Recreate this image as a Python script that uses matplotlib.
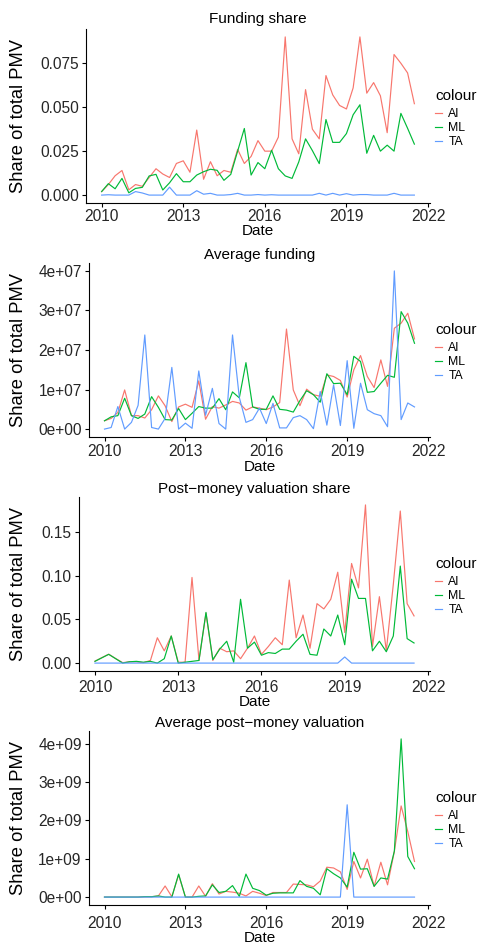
import matplotlib
matplotlib.use('Agg')
import matplotlib.pyplot as plt
from matplotlib.lines import Line2D
import pandas as pd

plt.rcParams['font.family'] = ['Liberation Sans', 'DejaVu Sans']

# ---------------- data ----------------
dates = pd.date_range('2010-01-01', periods=47, freq='QS')
series_names = ['AI', 'ML', 'TA']

funding_share_AI = [0.002, 0.006, 0.011, 0.014, 0.003, 0.006, 0.005, 0.010, 0.015, 0.012,
                    0.010, 0.018, 0.0195, 0.013, 0.037, 0.009, 0.019, 0.011, 0.014, 0.013,
                    0.026, 0.018, 0.022, 0.031, 0.025, 0.025, 0.033, 0.090, 0.032, 0.0235,
                    0.060, 0.0375, 0.032, 0.068, 0.057, 0.051, 0.049, 0.061, 0.090, 0.058,
                    0.064, 0.0565, 0.0355, 0.080, 0.075, 0.0695, 0.052]
funding_share_ML = [0.002, 0.0065, 0.0036, 0.0095, 0.0013, 0.0038, 0.0044, 0.0109, 0.0118, 0.0029,
                    0.007, 0.0122, 0.0076, 0.0076, 0.0114, 0.0133, 0.0147, 0.0141, 0.0084, 0.0118,
                    0.025, 0.0379, 0.0114, 0.0185, 0.015, 0.0255, 0.015, 0.0109, 0.0095, 0.0189,
                    0.032, 0.0253, 0.0179, 0.043, 0.030, 0.030, 0.035, 0.0457, 0.0514, 0.0238,
                    0.034, 0.025, 0.0284, 0.025, 0.0465, 0.038, 0.029]
funding_share_TA = [0.0, 0.0002, 0.0, 0.0, 0.0, 0.002, 0.0012, 0.0, 0.0, 0.0,
                    0.0045, 0.0, 0.0, 0.0, 0.0025, 0.0005, 0.001, 0.0, 0.0, 0.0003,
                    0.001, 0.0, 0.0, 0.0003, 0.0, 0.0002, 0.0, 0.0, 0.0, 0.0,
                    0.0, 0.0, 0.001, 0.0, 0.001, 0.0, 0.0008, 0.0, 0.0003, 0.0003,
                    0.0, 0.0, 0.0, 0.001, 0.0, 0.0, 0.0]

avg_funding_AI = [2.1e6, 2.7e6, 4.2e6, 9.9e6, 3.4e6, 3.4e6, 2.8e6, 4.9e6, 8.4e6, 5.9e6,
                  1.9e6, 5.6e6, 6.3e6, 5.5e6, 12.2e6, 2.5e6, 5.7e6, 5.3e6, 6.1e6, 7.0e6,
                  6.6e6, 4.8e6, 5.6e6, 5.3e6, 4.9e6, 5.6e6, 6.7e6, 25.3e6, 9.9e6, 5.9e6,
                  10.1e6, 8.7e6, 8.3e6, 13.7e6, 13.3e6, 12.3e6, 8.1e6, 15.0e6, 18.6e6, 13.3e6,
                  10.5e6, 17.5e6, 10.8e6, 25.5e6, 26.8e6, 29.3e6, 22.8e6]
avg_funding_ML = [2.1e6, 3.1e6, 3.4e6, 7.8e6, 3.4e6, 2.7e6, 3.8e6, 8.2e6, 5.5e6, 2.4e6,
                  2.3e6, 5.2e6, 2.4e6, 4.0e6, 5.7e6, 5.3e6, 5.3e6, 7.7e6, 4.9e6, 9.4e6,
                  7.9e6, 16.8e6, 5.6e6, 5.0e6, 5.0e6, 8.4e6, 5.0e6, 4.8e6, 4.3e6, 7.2e6,
                  9.7e6, 8.7e6, 6.8e6, 14.0e6, 11.5e6, 11.6e6, 8.7e6, 18.4e6, 17.1e6, 9.3e6,
                  9.5e6, 11.6e6, 13.6e6, 13.1e6, 29.7e6, 26.8e6, 21.7e6]
avg_funding_TA = [0.0, 0.4e6, 5.7e6, 0.0, 1.7e6, 6.0e6, 23.8e6, 0.4e6, 0.0, 2.7e6,
                  15.6e6, 0.0, 1.5e6, 0.2e6, 14.7e6, 3.5e6, 10.3e6, 1.4e6, 0.0, 23.8e6,
                  8.0e6, 1.7e6, 2.4e6, 5.3e6, 1.4e6, 6.5e6, 0.3e6, 0.3e6, 2.9e6, 3.4e6,
                  2.4e6, 0.1e6, 9.5e6, 1.0e6, 11.2e6, 0.9e6, 17.3e6, 0.2e6, 11.6e6, 4.9e6,
                  3.9e6, 3.4e6, 0.6e6, 40.0e6, 2.4e6, 6.6e6, 5.6e6]

pmv_share_AI = [0.0022, 0.0062, 0.0102, 0.0052, 0.0005, 0.0015, 0.0015, 0.0005, 0.003, 0.029,
                0.014, 0.031, 0.001, 0.001, 0.098, 0.003, 0.057, 0.003, 0.017, 0.013,
                0.014, 0.005, 0.017, 0.031, 0.010, 0.019, 0.029, 0.021, 0.095, 0.029,
                0.055, 0.017, 0.068, 0.062, 0.073, 0.104, 0.035, 0.114, 0.086, 0.181,
                0.019, 0.076, 0.014, 0.09, 0.174, 0.068, 0.054]
pmv_share_ML = [0.002, 0.006, 0.010, 0.005, 0.0, 0.0015, 0.002, 0.001, 0.002, 0.0,
                0.005, 0.031, 0.0, 0.001, 0.002, 0.003, 0.058, 0.004, 0.016, 0.025,
                0.001, 0.073, 0.017, 0.024, 0.009, 0.012, 0.011, 0.016, 0.016, 0.025,
                0.033, 0.010, 0.009, 0.039, 0.031, 0.055, 0.021, 0.096, 0.074, 0.074,
                0.014, 0.025, 0.013, 0.031, 0.111, 0.028, 0.023]
pmv_share_TA = [0.0] * 36 + [0.007] + [0.0] * 10

avg_pmv_AI = [0.0, 0.0, 0.0, 0.0, 0.0, 0.0, 0.01e9, 0.01e9, 0.03e9, 0.29e9,
              0.01e9, 0.58e9, 0.0, 0.0, 0.29e9, 0.02e9, 0.35e9, 0.08e9, 0.15e9, 0.13e9,
              0.10e9, 0.03e9, 0.15e9, 0.10e9, 0.04e9, 0.12e9, 0.12e9, 0.12e9, 0.34e9, 0.33e9,
              0.32e9, 0.27e9, 0.42e9, 0.78e9, 0.76e9, 0.66e9, 0.20e9, 0.93e9, 0.50e9, 0.99e9,
              0.28e9, 0.91e9, 0.32e9, 1.19e9, 2.38e9, 1.71e9, 0.93e9]
avg_pmv_ML = [0.0, 0.0, 0.0, 0.0, 0.0, 0.0, 0.01e9, 0.01e9, 0.03e9, 0.0,
              0.0, 0.60e9, 0.0, 0.0, 0.02e9, 0.03e9, 0.32e9, 0.12e9, 0.15e9, 0.30e9,
              0.02e9, 0.60e9, 0.23e9, 0.17e9, 0.05e9, 0.10e9, 0.11e9, 0.11e9, 0.11e9, 0.43e9,
              0.28e9, 0.23e9, 0.06e9, 0.74e9, 0.61e9, 0.50e9, 0.26e9, 1.17e9, 0.73e9, 0.74e9,
              0.28e9, 0.50e9, 0.47e9, 1.20e9, 4.13e9, 1.06e9, 0.74e9]
avg_pmv_TA = [0.0] * 36 + [2.41e9] + [0.0] * 10

titles = ['Funding share', 'Average funding', 'Post\u2212money valuation share',
          'Average post\u2212money valuation']
ytick_values = [[0.0, 0.025, 0.05, 0.075], [0, 1e7, 2e7, 3e7, 4e7],
                [0.0, 0.05, 0.10, 0.15], [0, 1e9, 2e9, 3e9, 4e9]]
ytick_labels = [['0.000', '0.025', '0.050', '0.075'],
                ['0e+00', '1e+07', '2e+07', '3e+07', '4e+07'],
                ['0.00', '0.05', '0.10', '0.15'],
                ['0e+00', '1e+09', '2e+09', '3e+09', '4e+09']]
xtick_years = [2010, 2013, 2016, 2019, 2022]
xtick_labels = ['2010', '2013', '2016', '2019', '2022']

panel_data = [
    {'AI': funding_share_AI, 'ML': funding_share_ML, 'TA': funding_share_TA},
    {'AI': avg_funding_AI, 'ML': avg_funding_ML, 'TA': avg_funding_TA},
    {'AI': pmv_share_AI, 'ML': pmv_share_ML, 'TA': pmv_share_TA},
    {'AI': avg_pmv_AI, 'ML': avg_pmv_ML, 'TA': avg_pmv_TA},
]

# ---------------- style / layout ----------------
colors = {'AI': '#F8766D', 'ML': '#00BA38', 'TA': '#619CFF'}
W, H = 479, 946
layout = [(86, 29, 203), (89, 263, 437), (79, 497, 671), (89, 731, 905)]  # left, top, bottom (px)
title_y = [19, 255, 489, 723]
tick_offset = [14.5, 15.7, 17.0, 19.0]
date_y = [231, 467, 702, 938]
right = 430
text_col = '#262626'
tick_len = 2.8

fig = plt.figure(figsize=(W / 100, H / 100), dpi=100)
for k in range(4):
    l, t, b = layout[k]
    ax = fig.add_axes([l / W, 1 - b / H, (right - l) / W, (b - t) / H])
    data = panel_data[k]
    for name in series_names:
        ax.plot(dates, data[name], color=colors[name], lw=0.85, label=name)
    ax.set_yticks(ytick_values[k])
    ax.set_yticklabels(ytick_labels[k])
    ax.set_xticks([pd.Timestamp(f'{y}-01-01') for y in xtick_years])
    ax.set_xticklabels(xtick_labels)
    ax.margins(x=0.05, y=0.05)
    for s in ['top', 'right']:
        ax.spines[s].set_visible(False)
    for s in ['left', 'bottom']:
        ax.spines[s].set_linewidth(0.8)
        ax.spines[s].set_color('black')
    ax.tick_params(direction='out', length=tick_len, width=0.8, color='black',
                   labelsize=11.2, labelcolor=text_col)
    ax.tick_params(axis='y', pad=2.5)
    ax.tick_params(axis='x', pad=max(0.5, (tick_offset[k] - 8.5) * 0.72 - tick_len))
    xc = (l + right) / 2 / W
    fig.text(xc, 1 - title_y[k] / H, titles[k], ha='center', va='center',
             fontsize=11, color='black')
    fig.text(xc, 1 - date_y[k] / H, 'Date', ha='center', va='center',
             fontsize=11, color='black')
    fig.text(19 / W, 1 - (t + b) / 2 / H, 'Share of total PMV', rotation=90,
             ha='center', va='center', fontsize=13.2, color='black')
    c = (t + b) / 2
    fig.text(435 / W, 1 - (c - 20) / H, 'colour', ha='left', va='center',
             fontsize=11, color='black')
    handles = [Line2D([], [], color=colors[n], lw=0.85) for n in series_names]
    leg = ax.legend(handles, series_names, loc='center left',
                    bbox_to_anchor=(435 / W, 1 - (c + 12) / H),
                    bbox_transform=fig.transFigure, frameon=False,
                    fontsize=8.8, handlelength=0.6, handletextpad=0.5,
                    labelspacing=0.16, borderpad=0, borderaxespad=0)
    for txt in leg.get_texts():
        txt.set_color('black')

fig.savefig('out.png', dpi=100)
